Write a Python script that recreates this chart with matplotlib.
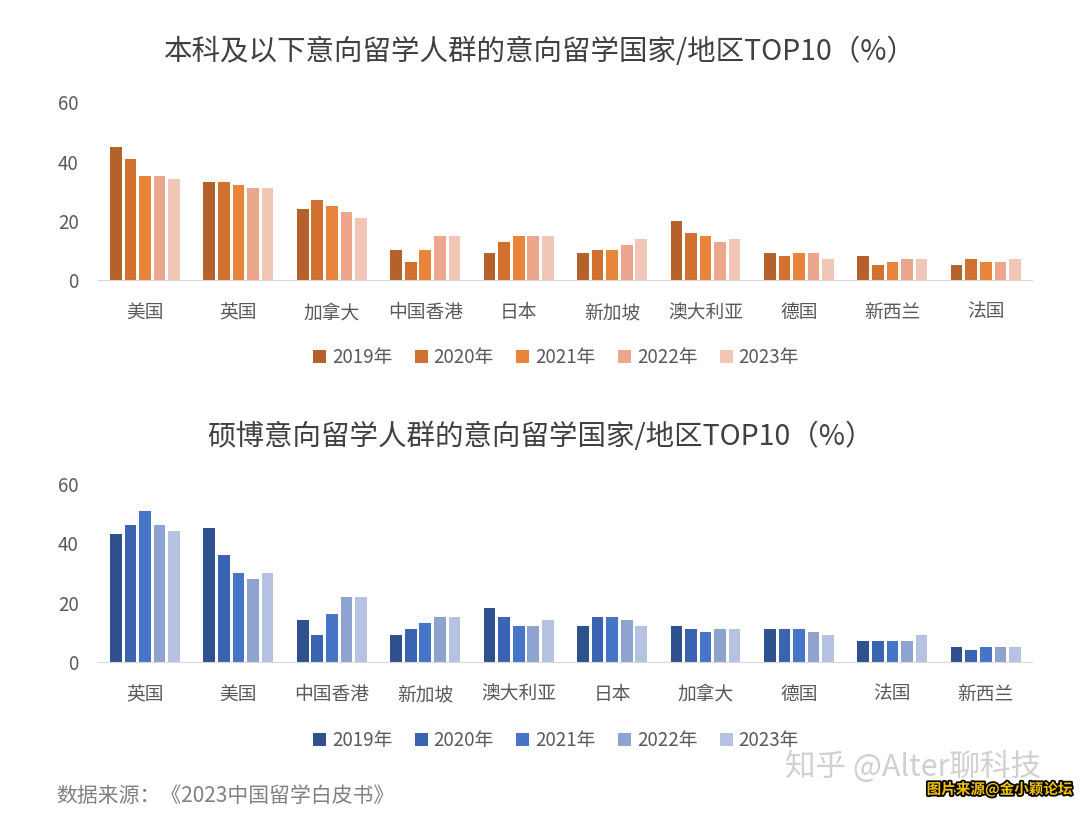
import numpy as np
import matplotlib
import matplotlib.pyplot as plt
import matplotlib.patheffects as pe
matplotlib.use('Agg')

plt.rcParams['font.family'] = ['Noto Sans CJK SC', 'DejaVu Sans']

years = ['2019年', '2020年', '2021年', '2022年', '2023年']

ug_countries = ['美国', '英国', '加拿大', '中国香港', '日本', '新加坡', '澳大利亚', '德国', '新西兰', '法国']
ug_2019 = [45, 33, 24, 10, 9, 9, 20, 9, 8, 5]
ug_2020 = [41, 33, 27, 6, 13, 10, 16, 8, 5, 7]
ug_2021 = [35, 32, 25, 10, 15, 10, 15, 9, 6, 6]
ug_2022 = [35, 31, 23, 15, 15, 12, 13, 9, 7, 6]
ug_2023 = [34, 31, 21, 15, 15, 14, 14, 7, 7, 7]

pg_countries = ['英国', '美国', '中国香港', '新加坡', '澳大利亚', '日本', '加拿大', '德国', '法国', '新西兰']
pg_2019 = [43, 45, 14, 9, 18, 12, 12, 11, 7, 5]
pg_2020 = [46, 36, 9, 11, 15, 15, 11, 11, 7, 4]
pg_2021 = [51, 30, 16, 13, 12, 15, 10, 11, 7, 5]
pg_2022 = [46, 28, 22, 15, 12, 14, 11, 10, 7, 5]
pg_2023 = [44, 30, 22, 15, 14, 12, 11, 9, 9, 5]

orange = ['#B5612B', '#D2712F', '#E8853B', '#ECA68B', '#F2C6B6']
blue = ['#2F528F', '#3A64B2', '#4674C6', '#8FA3D0', '#B6C2E1']

text_c = '#595959'
title_c = '#404040'


def draw(ax, cats, series, colors, legend_y):
    x = np.arange(len(cats))
    slot = 0.156
    w = 0.125
    for i, vals in enumerate(series):
        ax.bar(x + (i - 2) * slot, vals, width=w, color=colors[i],
               label=years[i])
    ax.set_xlim(-0.5, len(cats) - 0.5)
    ax.set_ylim(0, 60)
    ax.set_yticks([0, 20, 40, 60])
    ax.set_xticks(x)
    ax.set_xticklabels(cats)
    ax.tick_params(axis='both', length=0, labelsize=13.5, colors=text_c)
    ax.tick_params(axis='x', pad=16)
    ax.tick_params(axis='y', pad=14)
    for s in ['top', 'right', 'left']:
        ax.spines[s].set_visible(False)
    ax.spines['bottom'].set_color('#D9D9D9')
    ax.legend(loc='center', bbox_to_anchor=(0.49, legend_y), ncol=5,
              frameon=False, fontsize=13.5, handlelength=0.7,
              handleheight=0.7, handletextpad=0.3, columnspacing=1.2,
              labelcolor=text_c)


fig = plt.figure(figsize=(10.8, 8.19), dpi=100)
ax1 = fig.add_axes([0.091, 0.658, 0.865, 0.217])
ax2 = fig.add_axes([0.091, 0.192, 0.865, 0.217])

draw(ax1, ug_countries, [ug_2019, ug_2020, ug_2021, ug_2022, ug_2023],
     orange, -0.435)
draw(ax2, pg_countries, [pg_2019, pg_2020, pg_2021, pg_2022, pg_2023],
     blue, -0.445)

fig.text(0.5, 0.936, '本科及以下意向留学人群的意向留学国家/地区TOP10（%）',
         fontsize=20.5, color=title_c, ha='center', va='center')
fig.text(0.5, 0.467, '硕博意向留学人群的意向留学国家/地区TOP10（%）',
         fontsize=20.5, color=title_c, ha='center', va='center')

fig.text(0.052, 0.028, '数据来源：《2023中国留学白皮书》', fontsize=15,
         color='#808080', va='center')
fig.text(0.727, 0.064, '知乎 @Alter聊科技', fontsize=22, color='#D0D0D0',
         va='center')
fig.text(0.858, 0.036, '图片来源@金小颖论坛', fontsize=10.5, color='#F2C200',
         fontweight='bold', va='center',
         path_effects=[pe.withStroke(linewidth=2.5, foreground='black')])

plt.savefig('out.png', dpi=100)
